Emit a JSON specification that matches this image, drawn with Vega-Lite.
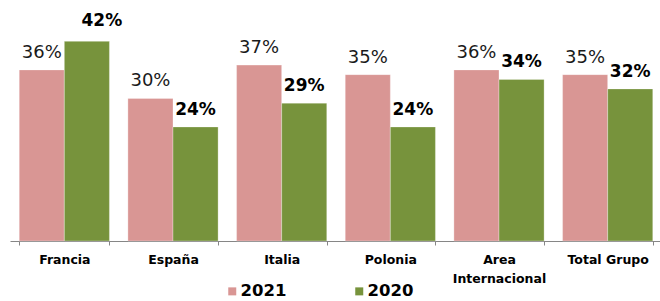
{
  "$schema": "https://vega.github.io/schema/vega-lite/v6.json",
  "width": 652,
  "height": 241,
  "autosize": "none",
  "padding": {"left": 10, "top": 0, "right": 0, "bottom": 60},
  "background": "white",
  "config": {"view": {"stroke": null}, "font": "DejaVu Sans"},
  "data": {
    "values": [
      {"region": "Francia", "year": "2021", "value": 0.36},
      {"region": "Francia", "year": "2020", "value": 0.42},
      {"region": "España", "year": "2021", "value": 0.30},
      {"region": "España", "year": "2020", "value": 0.24},
      {"region": "Italia", "year": "2021", "value": 0.37},
      {"region": "Italia", "year": "2020", "value": 0.29},
      {"region": "Polonia", "year": "2021", "value": 0.35},
      {"region": "Polonia", "year": "2020", "value": 0.24},
      {"region": "Area Internacional", "year": "2021", "value": 0.36},
      {"region": "Area Internacional", "year": "2020", "value": 0.34},
      {"region": "Total Grupo", "year": "2021", "value": 0.35},
      {"region": "Total Grupo", "year": "2020", "value": 0.32}
    ]
  },
  "encoding": {
    "x": {
      "field": "region",
      "type": "nominal",
      "sort": ["Francia", "España", "Italia", "Polonia", "Area Internacional", "Total Grupo"],
      "scale": {"paddingInner": 0.17, "paddingOuter": 0.085},
      "axis": {
        "title": null,
        "labelAngle": 0,
        "labelFont": "DejaVu Sans",
        "labelFontSize": 12.5,
        "labelFontWeight": "bold",
        "labelColor": "#000000",
        "labelPadding": 8,
        "labelLineHeight": 19,
        "labelExpr": "datum.label == 'Area Internacional' ? ['Area', 'Internacional'] : datum.label",
        "domainColor": "#868686",
        "tickColor": "#868686",
        "tickSize": 4,
        "tickBand": "extent",
        "grid": false
      }
    },
    "xOffset": {"field": "year", "type": "nominal", "sort": ["2021", "2020"], "scale": {"paddingInner": 0}},
    "y": {
      "field": "value",
      "type": "quantitative",
      "scale": {"domain": [0, 0.507], "nice": false, "zero": true},
      "axis": null
    }
  },
  "layer": [
    {
      "mark": {"type": "bar", "stroke": "#ffffff", "strokeWidth": 0.5, "strokeOpacity": 0.6},
      "encoding": {
        "color": {
          "field": "year",
          "type": "nominal",
          "sort": ["2021", "2020"],
          "scale": {"domain": ["2021", "2020"], "range": ["#D99694", "#77933C"]},
          "legend": {
            "title": null,
            "orient": "none",
            "direction": "horizontal",
            "legendX": 214,
            "legendY": 283,
            "padding": 0,
            "symbolType": "square",
            "symbolSize": 64,
            "symbolStrokeWidth": 0,
            "labelFont": "DejaVu Sans",
            "labelFontSize": 16.5,
            "labelFontWeight": "bold",
            "labelColor": "#000000",
            "labelOffset": 0,
            "columnPadding": 64
          }
        }
      }
    },
    {
      "transform": [{"filter": "datum.year == '2021'"}],
      "mark": {"type": "text", "baseline": "alphabetic", "dy": -12, "font": "DejaVu Sans", "fontSize": 18, "color": "#1a1a1a"},
      "encoding": {"text": {"field": "value", "type": "quantitative", "format": ".0%"}}
    },
    {
      "transform": [{"filter": "datum.year == '2020' && datum.region != 'Francia'"}],
      "mark": {"type": "text", "baseline": "alphabetic", "dy": -12, "font": "DejaVu Sans", "fontSize": 17, "fontWeight": "bold", "color": "#000000"},
      "encoding": {"text": {"field": "value", "type": "quantitative", "format": ".0%"}}
    },
    {
      "transform": [{"filter": "datum.year == '2020' && datum.region == 'Francia'"}],
      "mark": {"type": "text", "baseline": "alphabetic", "dy": -15, "dx": 15, "font": "DejaVu Sans", "fontSize": 17, "fontWeight": "bold", "color": "#000000"},
      "encoding": {"text": {"field": "value", "type": "quantitative", "format": ".0%"}}
    }
  ]
}
